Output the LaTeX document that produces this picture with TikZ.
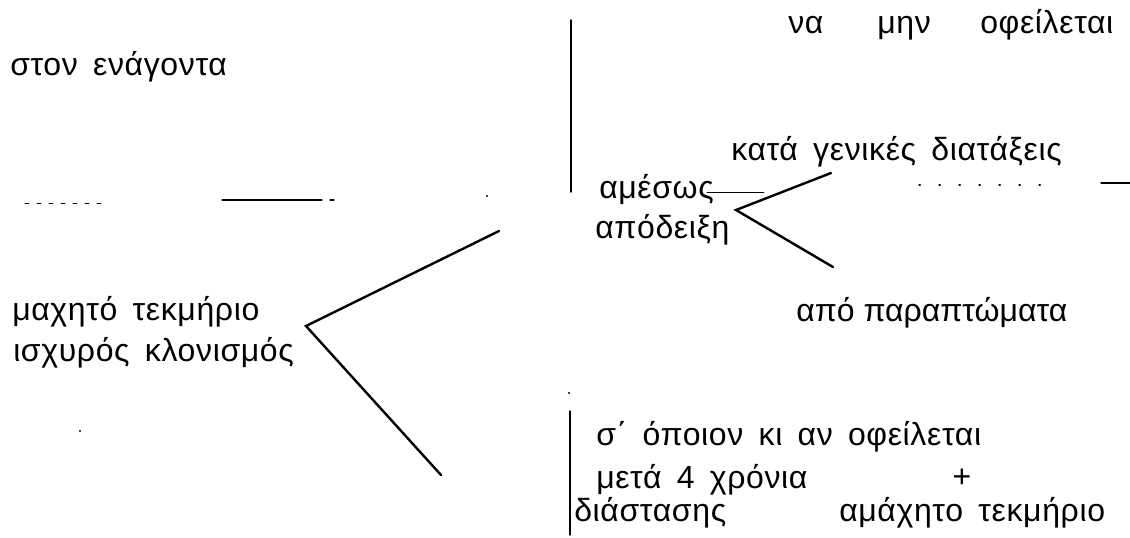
\documentclass[tikz,border=0pt]{standalone}
\usepackage{fontspec}
\setmainfont{Liberation Sans}
\newfontfamily\grfont[LetterSpace=2.0,WordSpace=1.6]{Liberation Sans}

\begin{document}
\begin{tikzpicture}[x=0.75pt,y=-0.75pt,line cap=round,
    lbl/.style={anchor=base west,inner sep=0pt,font=\grfont\fontsize{24}{28}\selectfont},
    arm/.style={line width=1.8pt},
    bar/.style={line width=1.1pt},
    scan/.style={line width=0.8pt,dash pattern=on 3pt off 6pt}]

\useasboundingbox (0,0) rectangle (1130,537);

% texts
\node[lbl] (enagonta) at (10,75) {στον ενάγοντα};
\node[lbl] (na) at (788,33) {να};
\node[lbl] (min) at (877,33) {μην};
\node[lbl] (ofeiletai) at (980,33) {οφείλεται};
\node[lbl] (genikes) at (731,160) {κατά γενικές διατάξεις};
\node[lbl] (amesos) at (599,198) {αμέσως};
\node[lbl] (apodeixi) at (595,238) {απόδειξη};
\node[lbl] (maxito) at (12,320) {μαχητό τεκμήριο};
\node[lbl] (isxyros) at (13,361) {ισχυρός κλονισμός};
\node[lbl,font=\fontsize{24}{28}\selectfont] (paraptomata) at (796,321) {από παραπτώματα};
\node[lbl] (opoion) at (596,445) {σ΄ όποιον κι αν οφείλεται};
\node[lbl] (meta) at (596,488) {μετά 4 χρόνια};
\node[lbl,anchor=center] (plus) at (962,478) {+};
\node[lbl] (diastasis) at (574,521) {διάστασης};
\node[lbl] (amaxito) at (839,521) {αμάχητο τεκμήριο};

% branch points
\coordinate (bigtip) at (306,326);
\coordinate (bigup) at (499,231);
\coordinate (bigdown) at (441,475);
\coordinate (smalltip) at (736,210);
\coordinate (smallup) at (831,173);
\coordinate (smalldown) at (833,267);
\coordinate (amesosend) at (764,192);
\coordinate (bartop) at (571,20);
\coordinate (barmid) at (571,192);
\coordinate (barlow) at (570,411);
\coordinate (barend) at (570,535);

\draw[arm] (bigup) -- (bigtip) -- (bigdown);
\draw[arm] (smallup) -- (smalltip) -- (smalldown);
\draw[bar] (bartop) -- (barmid);
\draw[bar] (barlow) -- (barend);
\draw[line width=0.7pt] (amesos.east |- amesosend) ++(-7,0) -- (amesosend);

% scan leftovers
\coordinate (leftdots) at (25,203);
\coordinate (leftdash) at (222,200);
\coordinate (leftdashend) at (338,200);
\coordinate (rightdots) at (919,185);
\coordinate (rightdash) at (1101,183);
\coordinate (rightdashend) at (1130,183);
\draw[scan,line width=0.6pt] (leftdots) -- ++(77,0);
\draw[line width=0.8pt] (leftdash) -- ++(96,0);
\draw[scan] (leftdash) ++(96,0) -- (leftdashend);
\draw[scan,dash pattern=on 1pt off 14pt] (rightdots) -- ++(136,0);
\draw[line width=0.8pt] (rightdash) -- (rightdashend);
\foreach \p in {(487,196),(80,431),(569,393)}
  \fill \p circle (0.9pt);

\end{tikzpicture}
\end{document}
